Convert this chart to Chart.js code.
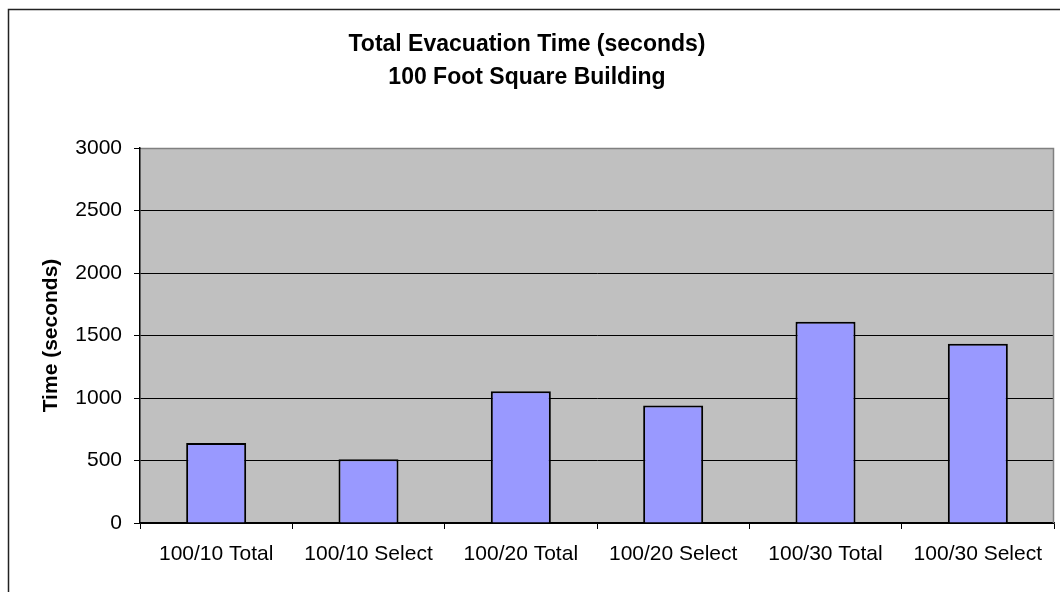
<!DOCTYPE html>
<html>
<head>
<meta charset="utf-8">
<style>
  html, body { margin: 0; padding: 0; background: #fff; }
  canvas { display: block; }
</style>
<script src="https://cdn.jsdelivr.net/npm/chart.js@4/dist/chart.umd.min.js"></script>
</head>
<body>
<canvas id="c" width="1060" height="592"></canvas>
<script>
const categories = ["100/10 Total", "100/10 Select", "100/20 Total", "100/20 Select", "100/30 Total", "100/30 Select"];
const times = [640, 510, 1055, 940, 1610, 1435];
const yMin = 0;
const yMax = 3000;
const yStep = 500;
const titleLines = ["Total Evacuation Time (seconds)", "100 Foot Square Building"];
const yTitle = "Time (seconds)";

Chart.defaults.font.family = "'Liberation Sans', Arial, sans-serif";
Chart.defaults.color = "#000";

const decor = {
  id: "decor",
  beforeDraw(chart) {
    const ctx = chart.ctx;
    const a = chart.chartArea;
    ctx.save();
    ctx.fillStyle = "#ffffff";
    ctx.fillRect(0, 0, chart.width, chart.height);
    ctx.strokeStyle = "#222";
    ctx.lineWidth = 1.5;
    ctx.strokeRect(8.5, 9.5, 1200, 1200);
    ctx.fillStyle = "#c0c0c0";
    ctx.fillRect(a.left, a.top, a.right - a.left, a.bottom - a.top);
    ctx.restore();
  },
  afterDraw(chart) {
    const ctx = chart.ctx;
    const a = chart.chartArea;
    ctx.save();
    ctx.strokeStyle = "#808080";
    ctx.lineWidth = 1.5;
    ctx.beginPath();
    ctx.moveTo(a.left + 1, a.top + 0.5);
    ctx.lineTo(a.right - 0.5, a.top + 0.5);
    ctx.lineTo(a.right - 0.5, a.bottom);
    ctx.stroke();
    ctx.restore();
  }
};

new Chart(document.getElementById("c"), {
  type: "bar",
  data: {
    labels: categories,
    datasets: [{
      data: times,
      backgroundColor: "#9999ff",
      borderColor: "#000",
      borderWidth: 2,
      barPercentage: 0.394,
      categoryPercentage: 1.0
    }]
  },
  options: {
    responsive: false,
    animation: false,
    devicePixelRatio: 1,
    layout: { padding: { left: 0, right: 6, top: 0, bottom: 0 } },
    plugins: {
      legend: { display: false },
      tooltip: { enabled: false },
      title: {
        display: true,
        text: titleLines,
        color: "#000",
        font: { size: 23, weight: "bold", lineHeight: 33 / 23 },
        padding: { top: 28, bottom: 54 }
      }
    },
    scales: {
      x: {
        type: "category",
        offset: true,
        grid: { offset: true, drawOnChartArea: false, tickLength: 6, color: "#000", lineWidth: 1 },
        border: { color: "#000", width: 1.5 },
        ticks: { font: { size: 21 }, color: "#000", padding: 13, maxRotation: 0, autoSkip: false },
        afterFit(scale) { scale.height = 69; }
      },
      y: {
        min: yMin,
        max: yMax,
        ticks: {
          stepSize: yStep,
          font: { size: 21 },
          color: "#000",
          padding: 12,
          callback: (v) => String(v)
        },
        grid: { color: "#000", lineWidth: 1, tickLength: 6 },
        border: { color: "#000", width: 1.5 },
        title: {
          display: true,
          text: yTitle,
          color: "#000",
          font: { size: 21, weight: "bold" },
          padding: { top: 39, bottom: 0 }
        },
        afterFit(scale) { scale.width = 140; }
      }
    }
  },
  plugins: [decor]
});
</script>
</body>
</html>
